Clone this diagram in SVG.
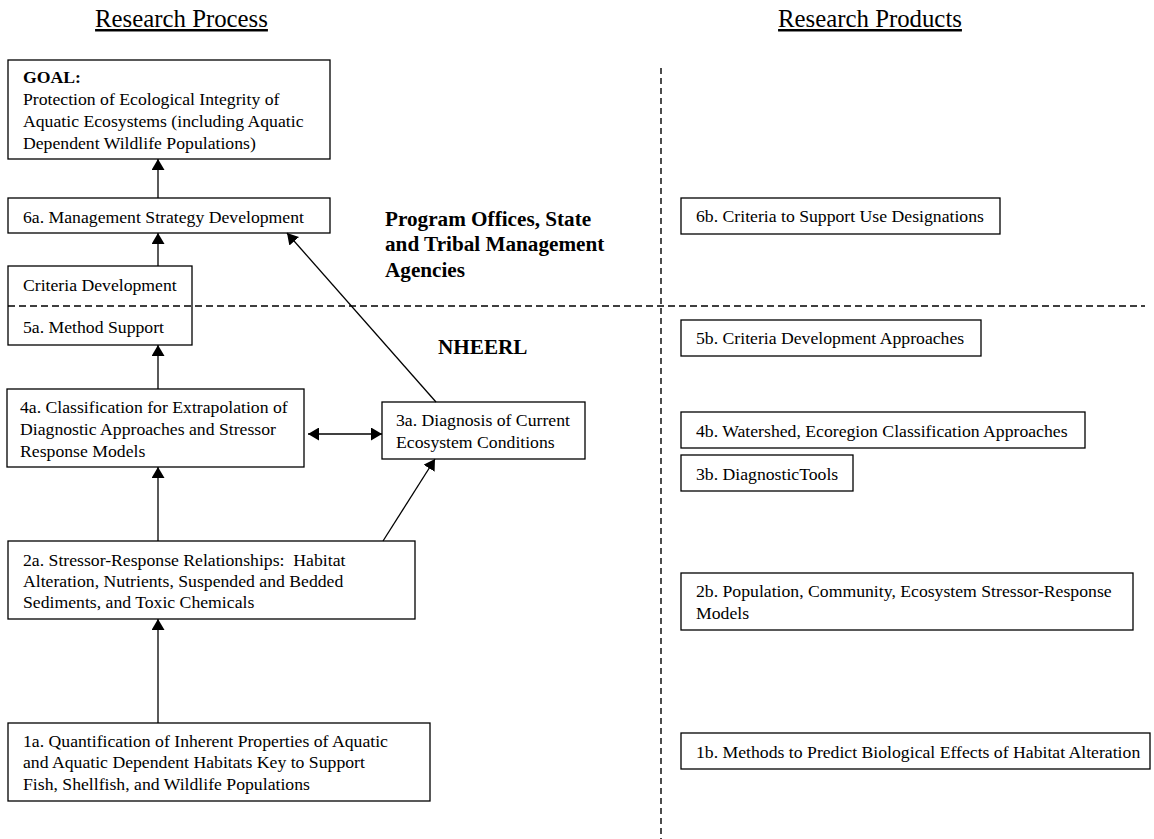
<svg xmlns="http://www.w3.org/2000/svg" width="1154" height="839" viewBox="0 0 1154 839">
  <style>
    .box { fill: #fff; stroke: #000; stroke-width: 1.3; }
    .t { font-family: "Liberation Serif", "Times New Roman", serif; font-size: 17.7px; fill: #000; }
    .b { font-weight: bold; }
    .lbl { font-family: "Liberation Serif", "Times New Roman", serif; font-size: 21.2px; font-weight: bold; fill: #000; }
    .head { font-family: "Liberation Serif", "Times New Roman", serif; font-size: 24.8px; fill: #000; text-decoration: underline; }
    .conn { stroke: #000; stroke-width: 1.3; fill: none; }
    .dash-h { stroke: #000; stroke-width: 1.4; stroke-dasharray: 7 4; fill: none; }
    .dash-v { stroke: #000; stroke-width: 1.4; stroke-dasharray: 6 4; fill: none; }
  </style>
  <defs>
    <marker id="arrow" viewBox="0 0 11 13" refX="11" refY="6.5" markerWidth="11" markerHeight="13" markerUnits="userSpaceOnUse" orient="auto-start-reverse">
      <path d="M0,0 L11,6.5 L0,13 z" fill="#000"/>
    </marker>
  </defs>

  <rect width="1154" height="839" fill="#fff"/>

  <!-- column headings -->
  <text class="head" x="181.5" y="27" text-anchor="middle">Research Process</text>
  <text class="head" x="870" y="27" text-anchor="middle">Research Products</text>

  <!-- zone labels -->
  <text class="lbl" x="385" y="225.5">Program Offices, State</text>
  <text class="lbl" x="385" y="251">and Tribal Management</text>
  <text class="lbl" x="385" y="276.5">Agencies</text>
  <text class="lbl" x="438" y="354">NHEERL</text>

  <!-- research process nodes -->
  <g id="goal">
    <rect class="box" x="8" y="60" width="322" height="99"/>
    <text class="t b" x="23" y="83">GOAL:</text>
    <text class="t" x="23" y="105">Protection of Ecological Integrity of</text>
    <text class="t" x="23" y="127">Aquatic Ecosystems (including Aquatic</text>
    <text class="t" x="23" y="149">Dependent Wildlife Populations)</text>
  </g>
  <g id="n6a">
    <rect class="box" x="8" y="198" width="322" height="35"/>
    <text class="t" x="23" y="223">6a. Management Strategy Development</text>
  </g>
  <g id="n5a">
    <rect class="box" x="8" y="266" width="184" height="79"/>
    <text class="t" x="23" y="291">Criteria Development</text>
    <text class="t" x="23" y="333">5a. Method Support</text>
  </g>
  <g id="n4a">
    <rect class="box" x="7" y="389" width="297" height="78"/>
    <text class="t" x="20" y="413">4a. Classification for Extrapolation of</text>
    <text class="t" x="20" y="435">Diagnostic Approaches and Stressor</text>
    <text class="t" x="20" y="457">Response Models</text>
  </g>
  <g id="n3a">
    <rect class="box" x="382" y="402" width="203" height="57"/>
    <text class="t" x="396" y="426">3a. Diagnosis of Current</text>
    <text class="t" x="396" y="448">Ecosystem Conditions</text>
  </g>
  <g id="n2a">
    <rect class="box" x="8" y="541" width="407" height="78"/>
    <text class="t" x="23" y="566" xml:space="preserve">2a. Stressor-Response Relationships:  Habitat</text>
    <text class="t" x="23" y="587">Alteration, Nutrients, Suspended and Bedded</text>
    <text class="t" x="23" y="608">Sediments, and Toxic Chemicals</text>
  </g>
  <g id="n1a">
    <rect class="box" x="8" y="723" width="422" height="78"/>
    <text class="t" x="23" y="747">1a. Quantification of Inherent Properties of Aquatic</text>
    <text class="t" x="23" y="768">and Aquatic Dependent Habitats Key to Support</text>
    <text class="t" x="23" y="790">Fish, Shellfish, and Wildlife Populations</text>
  </g>

  <!-- research product nodes -->
  <g id="n6b">
    <rect class="box" x="681" y="198" width="319" height="36"/>
    <text class="t" x="696" y="222">6b. Criteria to Support Use Designations</text>
  </g>
  <g id="n5b">
    <rect class="box" x="681" y="320" width="300" height="36"/>
    <text class="t" x="696" y="344">5b. Criteria Development Approaches</text>
  </g>
  <g id="n4b">
    <rect class="box" x="681" y="412" width="404" height="36"/>
    <text class="t" x="696" y="437">4b. Watershed, Ecoregion Classification Approaches</text>
  </g>
  <g id="n3b">
    <rect class="box" x="681" y="455" width="172" height="36"/>
    <text class="t" x="696" y="480">3b. DiagnosticTools</text>
  </g>
  <g id="n2b">
    <rect class="box" x="681" y="573" width="452" height="57"/>
    <text class="t" x="696" y="597">2b. Population, Community, Ecosystem Stressor-Response</text>
    <text class="t" x="696" y="619">Models</text>
  </g>
  <g id="n1b">
    <rect class="box" x="681" y="733" width="469" height="36"/>
    <text class="t" x="696" y="758">1b. Methods to Predict Biological Effects of Habitat Alteration</text>
  </g>

  <!-- dividers, drawn over the boxes they cross -->
  <g id="dividers">
    <line class="dash-v" x1="661" y1="68" x2="661" y2="839"/>
    <line class="dash-h" x1="8" y1="306" x2="1145" y2="306"/>
  </g>

  <!-- connectors -->
  <g id="connectors">
    <line class="conn" x1="158" y1="198" x2="158" y2="159" marker-end="url(#arrow)"/>
    <line class="conn" x1="158" y1="266" x2="158" y2="233" marker-end="url(#arrow)"/>
    <line class="conn" x1="158" y1="389" x2="158" y2="345" marker-end="url(#arrow)"/>
    <line class="conn" x1="158" y1="541" x2="158" y2="467" marker-end="url(#arrow)"/>
    <line class="conn" x1="158" y1="723" x2="158" y2="619" marker-end="url(#arrow)"/>
    <line class="conn" x1="308" y1="434" x2="382" y2="434" marker-start="url(#arrow)" marker-end="url(#arrow)"/>
    <line class="conn" x1="383" y1="541" x2="435" y2="459" marker-end="url(#arrow)"/>
    <line class="conn" x1="436" y1="402" x2="287" y2="233" marker-end="url(#arrow)"/>
  </g>
</svg>
